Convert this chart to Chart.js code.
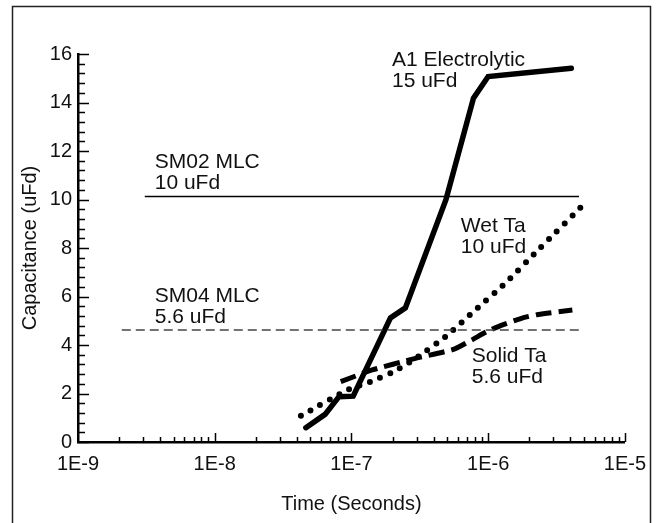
<!DOCTYPE html>
<html>
<head>
<meta charset="utf-8">
<script src="https://cdn.jsdelivr.net/npm/chart.js@4.4.0/dist/chart.umd.min.js"></script>
<style>
  html, body { margin: 0; padding: 0; background: #fff; }
</style>
</head>
<body>
<canvas id="chart1" width="656" height="523"></canvas>
<script>
// tick labels
var decadeTicks = [1e-9, 1e-8, 1e-7, 1e-6, 1e-5];
var decadeLabels = ["1E-9", "1E-8", "1E-7", "1E-6", "1E-5"];

// A1 Electrolytic 15 uFd
var a1Time = [4.64e-8, 6.41e-8, 8.11e-8, 1.03e-7, 1.93e-7, 2.48e-7, 4.91e-7, 7.81e-7, 1.0e-6, 4.06e-6];
var a1Cap = [0.59, 1.14, 1.87, 1.89, 5.12, 5.53, 9.99, 14.18, 15.07, 15.41];

// Wet Ta 10 uFd
var wetTime = [4.27e-8, 9.31e-8, 1.38e-7, 2.04e-7, 2.94e-7, 4.86e-7, 8.04e-7, 1.33e-6, 2.39e-6, 5.17e-6];
var wetCap = [1.08, 2.14, 2.49, 2.9, 3.45, 4.34, 5.44, 6.54, 7.99, 9.88];

// Solid Ta 5.6 uFd
var solidTime = [8.35e-8, 1.42e-7, 2.94e-7, 5.58e-7, 7.59e-7, 9.76e-7, 1.26e-6, 1.75e-6, 2.32e-6, 4.13e-6];
var solidCap = [2.49, 2.97, 3.45, 3.82, 4.21, 4.55, 4.82, 5.1, 5.26, 5.44];

// SM02 MLC 10 uFd / SM04 MLC 5.6 uFd (flat)
var sm02Time = [3.08e-9, 4.62e-6];
var sm02Cap = [10.12, 10.12];
var sm04Time = [2.09e-9, 4.62e-6];
var sm04Cap = [4.62, 4.62];

// curve labels: text lines + anchor (time, capacitance) of first baseline
var noteText = [["A1 Electrolytic", "15 uFd"], ["SM02 MLC", "10 uFd"], ["SM04 MLC", "5.6 uFd"], ["Wet Ta", "10 uFd"], ["Solid Ta", "5.6 uFd"]];
var noteTime = [1.98e-7, 3.64e-9, 3.64e-9, 6.31e-7, 7.59e-7];
var noteCap = [15.52, 11.29, 5.79, 8.65, 3.31];

function pts(xs, ys) {
  return xs.map(function (x, i) { return { x: x, y: ys[i] }; });
}

var FONT = "'Liberation Sans', Arial, Helvetica, sans-serif";

var framePlugin = {
  id: "frame",
  beforeDraw: function (chart) {
    var ctx = chart.ctx;
    ctx.save();
    ctx.strokeStyle = "#222";
    ctx.lineWidth = 1.5;
    ctx.beginPath();
    ctx.moveTo(12.5, 523);
    ctx.lineTo(12.5, 6.5);
    ctx.lineTo(650.5, 6.5);
    ctx.lineTo(650.5, 523);
    ctx.stroke();
    ctx.restore();
  }
};

// inward tick marks like the original plot
var tickPlugin = {
  id: "inticks",
  afterDraw: function (chart) {
    var ctx = chart.ctx;
    var xs = chart.scales.x, ys = chart.scales.y;
    var base = ys.getPixelForValue(0);
    var left = xs.getPixelForValue(1e-9);
    ctx.save();
    ctx.strokeStyle = "#000";
    ctx.lineWidth = 1.5;
    ctx.beginPath();
    for (var d = 1e-9; d < 9e-6; d *= 10) {
      for (var k = 2; k <= 10; k++) {
        var px = Math.round(xs.getPixelForValue(d * k)) + 0.5;
        var len = k === 10 ? 9 : 5;
        ctx.moveTo(px, base);
        ctx.lineTo(px, base - len);
      }
    }
    for (var i = 0; i <= 40; i++) {
      var v = i * 0.4;
      var py = Math.round(ys.getPixelForValue(v)) + 0.5;
      var l = i % 5 === 0 ? 11 : 7;
      ctx.moveTo(left, py);
      ctx.lineTo(left + l, py);
    }
    ctx.stroke();

    ctx.fillStyle = "#111";
    ctx.font = "21px " + FONT;
    ctx.textAlign = "left";
    ctx.textBaseline = "alphabetic";
    noteText.forEach(function (lines, n) {
      var x = xs.getPixelForValue(noteTime[n]);
      var y = ys.getPixelForValue(noteCap[n]);
      lines.forEach(function (t, j) {
        ctx.fillText(t, x, y + j * 21);
      });
    });
    ctx.restore();
  }
};

var ctx = document.getElementById("chart1").getContext("2d");
var myChart = new Chart(ctx, {
  type: "line",
  data: {
    datasets: [
      {
        label: "SM02 MLC",
        data: pts(sm02Time, sm02Cap),
        borderColor: "#000",
        borderWidth: 1.5,
        pointRadius: 0
      },
      {
        label: "SM04 MLC",
        data: pts(sm04Time, sm04Cap),
        borderColor: "#444",
        borderWidth: 1.5,
        borderDash: [9, 5],
        pointRadius: 0
      },
      {
        label: "Solid Ta",
        data: pts(solidTime, solidCap),
        borderColor: "#000",
        borderWidth: 5,
        borderDash: [16, 7],
        pointRadius: 0,
        tension: 0.2
      },
      {
        label: "Wet Ta",
        data: pts(wetTime, wetCap),
        borderColor: "#000",
        borderWidth: 6,
        borderDash: [0, 11],
        borderCapStyle: "round",
        pointRadius: 0,
        tension: 0.2
      },
      {
        label: "A1 Electrolytic",
        data: pts(a1Time, a1Cap),
        borderColor: "#000",
        borderWidth: 5.5,
        borderCapStyle: "round",
        pointRadius: 0
      }
    ]
  },
  options: {
    responsive: false,
    animation: false,
    layout: {
      padding: { left: 0, right: 29, top: 54, bottom: 0 }
    },
    plugins: {
      legend: { display: false },
      tooltip: { enabled: false }
    },
    scales: {
      x: {
        type: "logarithmic",
        min: 1e-9,
        max: 1e-5,
        afterFit: function (s) { s.height = 81; },
        afterBuildTicks: function (s) {
          s.ticks = decadeTicks.map(function (v) { return { value: v }; });
        },
        grid: { display: false, drawTicks: false },
        border: { display: true, color: "#000", width: 2.5 },
        ticks: {
          color: "#111",
          padding: 10,
          maxRotation: 0,
          autoSkip: false,
          font: { family: FONT, size: 20 },
          callback: function (v) {
            var i = decadeTicks.indexOf(v);
            return i >= 0 ? decadeLabels[i] : "";
          }
        },
        title: {
          display: true,
          text: "Time (Seconds)",
          color: "#111",
          font: { family: FONT, size: 20 },
          padding: { top: 0, bottom: 7 }
        }
      },
      y: {
        min: 0,
        max: 16,
        afterFit: function (s) { s.width = 78; },
        grid: { display: false, drawTicks: false },
        border: { display: true, color: "#000", width: 2.5 },
        ticks: {
          stepSize: 2,
          color: "#111",
          padding: 6,
          font: { family: FONT, size: 20 }
        },
        title: {
          display: true,
          text: "Capacitance (uFd)",
          color: "#111",
          font: { family: FONT, size: 20 },
          padding: { top: 18, bottom: 0 }
        }
      }
    }
  },
  plugins: [framePlugin, tickPlugin]
});
</script>
</body>
</html>
